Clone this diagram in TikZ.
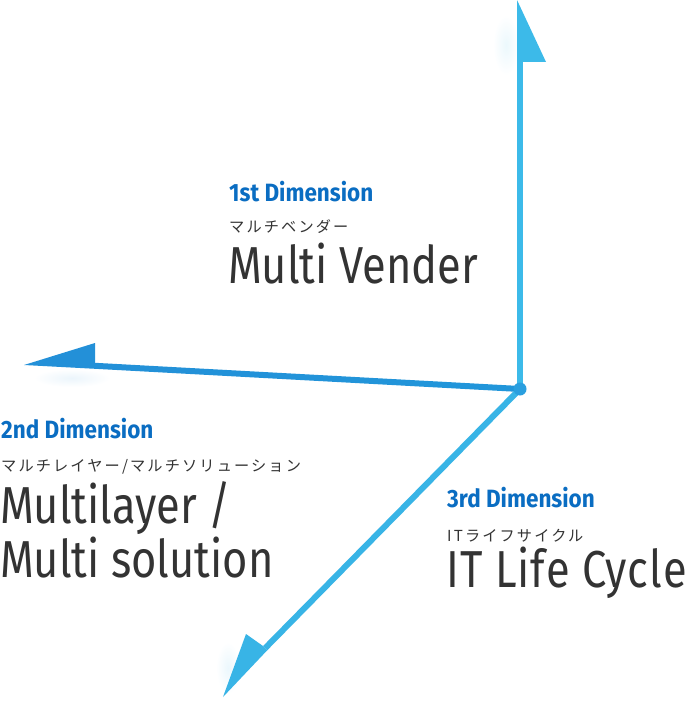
\documentclass[tikz,border=0pt]{standalone}
\usepackage{fontspec}
\setmainfont{Fira Sans}
\newfontfamily\condfont[FakeStretch=0.835]{Fira Sans}
\newfontfamily\condwide[FakeStretch=0.835, LetterSpace=2]{Fira Sans}
\newfontfamily\headfont[FakeStretch=0.9]{Fira Sans}
\newfontfamily\jpfont[LetterSpace=14]{Noto Sans CJK JP}
\definecolor{vblue}{HTML}{3CBAE9}
\definecolor{dblue}{HTML}{38B4E6}
\definecolor{hleft}{HTML}{2390D8}
\definecolor{hmid}{HTML}{0A55AE}
\definecolor{hright}{HTML}{2196DA}
\definecolor{dotblue}{HTML}{2A9FDF}
\definecolor{headblue}{HTML}{0A6DC2}
\definecolor{txtgray}{HTML}{333333}
\tikzset{
  heading/.style={anchor=base west, inner sep=0pt, text=headblue, font=\headfont\bfseries\fontsize{25}{28}\selectfont},
  kana/.style={anchor=base west, inner sep=0pt, text=txtgray, font=\jpfont\fontsize{15.2}{17}\selectfont},
  title/.style={anchor=base west, inner sep=0pt, text=txtgray, font=\condfont\fontsize{52}{55}\selectfont, align=left},
  glow/.style={inner color=#1, outer color=white},
}
\begin{document}
\begin{tikzpicture}[x=1pt,y=-1pt]
\useasboundingbox[fill=white] (0,0) rectangle (690,727);
% faint glows
\shade[glow=vblue!10] (506,45) ellipse (13 and 30);
\shade[glow=hleft!9] (72,378) ellipse (38 and 9);
\shade[glow=dblue!10] (228,668) ellipse (12 and 26);
% origin
\coordinate (O) at (520,389);
% vertical arrow
\coordinate (vT) at (517,0);
\coordinate (vB) at (517,62);
\coordinate (vR) at (546,62);
\coordinate (vE) at (520,62);
\draw[vblue, line width=6pt] (O) -- (vE);
\fill[vblue] (vT) -- (vB) -- (vR) -- cycle;
% horizontal arrow
\coordinate (hT) at (24,365);
\coordinate (hU) at (95,343);
\coordinate (hL) at (95,368.8);
\shade[left color=hleft, middle color=hmid, right color=hright]
  (95,362.8) -- (520,386) -- (520,392) -- (hL) -- cycle;
\fill[hleft] (hT) -- (hU) -- (hL) -- cycle;
% diagonal arrow
\coordinate (dT) at (223,697);
\coordinate (dA) at (246,634);
\coordinate (dN) at (263,646);
\coordinate (dM) at (267.3,650.2);
\coordinate (dE) at (265.2,648.1);
\draw[dblue, line width=6pt] (O) -- (dE);
\fill[dblue] (dT) -- (dA) -- (dN) -- (dM) -- cycle;
% dot
\fill[dotblue] (O) circle (6.5);
% texts
\node[heading] (h1) at (229,201) {1st Dimension};
\node[kana] (k1) at (229,233) {マルチベンダー};
\node[title] (t1) at (228,283) {Multi Vender};
\node[heading] (h2) at (1,438) {2nd Dimension};
\node[kana] (k2) at (1,471) {マルチレイヤー/マルチソリューション};
\node[title] (t2a) at (0,523) {Multilayer /};
\node[title] (t2b) at (0,577) {Multi solution};
\node[heading] (h3) at (447,507) {3rd Dimension};
\node[kana] (k3) at (447,541) {ITライフサイクル};
\node[title, font=\condwide\fontsize{52}{55}\selectfont] (t3) at (446,587) {IT Life Cycle};
\end{tikzpicture}
\end{document}
